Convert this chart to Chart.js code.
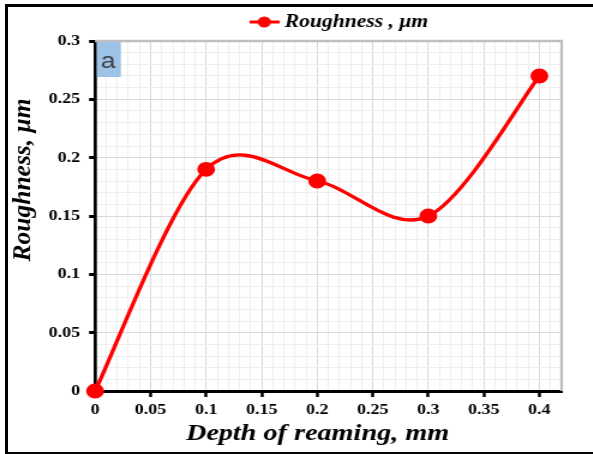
<!DOCTYPE html>
<html>
<head>
<meta charset="utf-8">
<script src="https://cdn.jsdelivr.net/npm/chart.js@4.4.0/dist/chart.umd.min.js"></script>
<style>
  html, body { margin: 0; padding: 0; background: #fff; overflow: hidden; }
  #wrap { position: relative; width: 593px; height: 454px; overflow: hidden; }
  /* 元画像は横に約1.2倍引き伸ばされている */
  #chart { position: absolute; left: 0; top: 0; transform: scaleX(1.2); transform-origin: 0 0; }
  #frame {
    position: absolute; left: 5px; top: 4px; width: 620px; height: 445px;
    border-left: 3px solid #000; border-top: 3px solid #000; border-bottom: 3px solid #000;
    pointer-events: none;
  }
</style>
</head>
<body>
<div id="wrap">
  <canvas id="chart" width="494" height="454"></canvas>
  <div id="frame"></div>
</div>
<script>
/* データ */
const depth = [0, 0.1, 0.2, 0.3, 0.4];
const roughness = [0, 0.19, 0.18, 0.15, 0.27];
const seriesLabel = "Roughness , μm";
const xTitle = "Depth of reaming, mm";
const yTitle = "Roughness, μm";
const panelLabel = "a";

const STRETCH = 1.2;
const serif = "'Liberation Serif', 'Times New Roman', serif";

/* 目盛り: 0.05ごとにラベル */
function isMajor(v) {
  return Math.round(v * 100) % 5 === 0;
}

function tickLabel(v) {
  return isMajor(v) ? String(Math.round(v * 100) / 100) : "";
}

/* 凡例マーカー (線+丸) */
function legendMarker() {
  const c = document.createElement("canvas");
  c.width = 25;
  c.height = 12;
  const g = c.getContext("2d");
  g.strokeStyle = "#ff0000";
  g.lineWidth = 3;
  g.beginPath();
  g.moveTo(0, 6);
  g.lineTo(25, 6);
  g.stroke();
  g.fillStyle = "#ff0000";
  g.beginPath();
  g.arc(12.5, 6, 5.5, 0, Math.PI * 2);
  g.fill();
  return c;
}

/* Excel風のなめらかな線 (Catmull-Rom) */
const excelSmooth = {
  id: "excelSmooth",
  beforeDatasetDraw(chart, args) {
    const line = args.meta.dataset;
    line.updateControlPoints(chart.chartArea, "x");
    const pts = args.meta.data;
    pts.forEach((p, i) => {
      const prev = pts[i - 1] || p;
      const next = pts[i + 1] || p;
      const dx = (next.x - prev.x) / 6;
      const dy = (next.y - prev.y) / 6;
      p.cp1x = p.x - dx;
      p.cp1y = p.y - dy;
      p.cp2x = p.x + dx;
      p.cp2y = p.y + dy;
    });
  }
};

/* 枠・ラベル・軸タイトル */
const decor = {
  id: "decor",
  afterLayout(chart) {
    chart.legend.left += 33;
    chart.legend.right += 33;
  },
  beforeDatasetsDraw(chart) {
    const a = chart.chartArea;
    const ctx = chart.ctx;
    ctx.save();
    ctx.strokeStyle = "#bfbfbf";
    ctx.lineWidth = 2.3;
    ctx.beginPath();
    ctx.moveTo(a.left, a.top);
    ctx.lineTo(a.right, a.top);
    ctx.lineTo(a.right, a.bottom);
    ctx.stroke();

    ctx.fillStyle = "#9dc3e6";
    ctx.fillRect(a.left + 1.5, a.top + 1, 20, 35);
    ctx.fillStyle = "#404040";
    ctx.font = "22px 'Liberation Sans', Arial, sans-serif";
    ctx.textAlign = "center";
    ctx.textBaseline = "middle";
    ctx.fillText(panelLabel, a.left + 11, a.top + 21);
    ctx.restore();
  },
  afterDraw(chart) {
    const ctx = chart.ctx;
    ctx.save();
    ctx.fillStyle = "#000";
    ctx.textAlign = "center";
    ctx.textBaseline = "middle";
    ctx.font = "bold italic 23.5px " + serif;
    ctx.fillText(xTitle, 264.6, 434);
    ctx.translate(19.6, 180);
    ctx.scale(1 / STRETCH, 1);
    ctx.rotate(-Math.PI / 2);
    ctx.font = "bold italic 25.5px " + serif;
    ctx.fillText(yTitle, 0, 0);
    ctx.restore();
  }
};

const gridColor = c => isMajor(c.tick.value) ? "#d9d9d9" : "#eeeeee";
const tickColor = c => isMajor(c.tick.value) ? "#000" : "rgba(0,0,0,0)";

new Chart(document.getElementById("chart"), {
  type: "line",
  data: {
    datasets: [{
      label: seriesLabel,
      data: depth.map((x, i) => ({ x: x, y: roughness[i] })),
      borderColor: "#ff0000",
      backgroundColor: "#ff0000",
      borderWidth: 3.3,
      pointRadius: 5.8,
      pointHoverRadius: 5.8,
      tension: 0.4,
      clip: false
    }]
  },
  options: {
    responsive: false,
    animation: false,
    layout: { padding: { left: 35, right: 26, top: 3, bottom: 35 } },
    plugins: {
      tooltip: { enabled: false },
      legend: {
        position: "top",
        labels: {
          usePointStyle: true,
          pointStyleWidth: 16,
          color: "#000",
          padding: 10,
          font: { family: serif, size: 18, weight: "bold", style: "italic" },
          generateLabels: chart => [{
            text: chart.data.datasets[0].label,
            pointStyle: legendMarker(),
            fillStyle: "#ff0000",
            strokeStyle: "#ff0000",
            lineWidth: 0,
            fontColor: "#000",
            datasetIndex: 0
          }]
        }
      }
    },
    scales: {
      x: {
        type: "linear",
        min: 0,
        max: 0.42,
        afterFit: s => { s.height = 28; },
        border: { color: "#000", width: 3 },
        grid: { color: gridColor, tickColor: tickColor, tickLength: 6, tickWidth: 2.5 },
        ticks: {
          stepSize: 0.01,
          autoSkip: false,
          maxRotation: 0,
          padding: 4,
          color: "#000",
          font: { family: serif, size: 15, weight: "bold" },
          callback: v => tickLabel(v)
        }
      },
      y: {
        min: 0,
        max: 0.3,
        afterFit: s => { s.width = 44.2; },
        border: { color: "#000", width: 2.7 },
        grid: { color: gridColor, tickColor: tickColor, tickLength: 5, tickWidth: 3 },
        ticks: {
          stepSize: 0.01,
          autoSkip: false,
          padding: 7.5,
          color: "#000",
          font: { family: serif, size: 15, weight: "bold" },
          callback: v => tickLabel(v)
        }
      }
    }
  },
  plugins: [excelSmooth, decor]
});
</script>
</body>
</html>
